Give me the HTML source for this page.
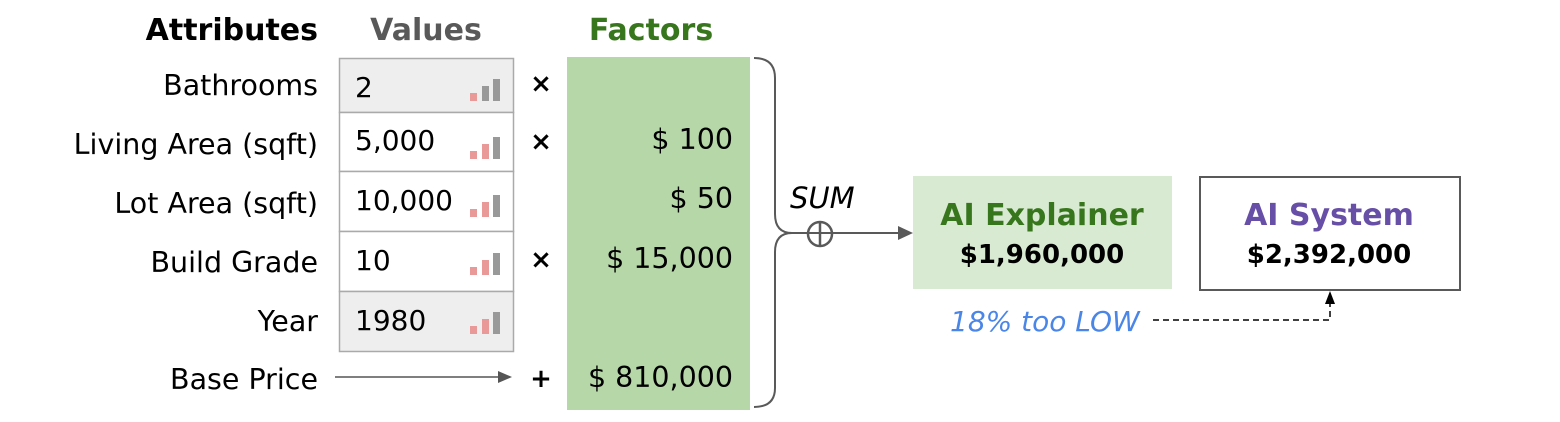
<!DOCTYPE html>
<html><head><meta charset="utf-8"><style>
html,body{margin:0;padding:0;background:#fff;}
svg{display:block;}
text{font-family:"DejaVu Sans","Liberation Sans",sans-serif;}
</style></head><body>
<svg width="1560" height="422" viewBox="0 0 1560 422" xmlns="http://www.w3.org/2000/svg">
<!-- headers -->
<text x="318" y="40" text-anchor="end" font-size="30" font-weight="bold" fill="#000">Attributes</text>
<text x="426" y="40" text-anchor="middle" font-size="30" font-weight="bold" fill="#595959">Values</text>
<text x="651" y="40" text-anchor="middle" font-size="30" font-weight="bold" fill="#38761d">Factors</text>
<!-- labels -->
<g font-size="28.5" fill="#000" text-anchor="end">
<text x="318" y="95">Bathrooms</text>
<text x="318" y="154">Living Area (sqft)</text>
<text x="318" y="213">Lot Area (sqft)</text>
<text x="318" y="272">Build Grade</text>
<text x="318" y="331">Year</text>
<text x="318" y="389">Base Price</text>
</g>
<!-- value boxes -->
<rect x="339.5" y="58.5" width="174" height="54" fill="#eeeeee" stroke="#aaa" stroke-width="1.5"/>
<rect x="339.5" y="112.5" width="174" height="59" fill="#fff" stroke="#aaa" stroke-width="1.5"/>
<rect x="339.5" y="171.5" width="174" height="60" fill="#fff" stroke="#aaa" stroke-width="1.5"/>
<rect x="339.5" y="231.5" width="174" height="60" fill="#fff" stroke="#aaa" stroke-width="1.5"/>
<rect x="339.5" y="291.5" width="174" height="60" fill="#eeeeee" stroke="#aaa" stroke-width="1.5"/>
<g font-size="28" fill="#000">
<text x="355" y="97">2</text>
<text x="355" y="150">5,000</text>
<text x="355" y="210">10,000</text>
<text x="355" y="270">10</text>
<text x="355" y="330">1980</text>
</g>
<!-- bars -->
<g>
<rect x="470" y="93" width="7" height="8" fill="#ea9999"/><rect x="482" y="86" width="7" height="15" fill="#999"/><rect x="493" y="79" width="7" height="22" fill="#999"/>
<rect x="470" y="151" width="7" height="8" fill="#ea9999"/><rect x="482" y="144" width="7" height="15" fill="#ea9999"/><rect x="493" y="137" width="7" height="22" fill="#999"/>
<rect x="470" y="209" width="7" height="8" fill="#ea9999"/><rect x="482" y="202" width="7" height="15" fill="#ea9999"/><rect x="493" y="195" width="7" height="22" fill="#999"/>
<rect x="470" y="267" width="7" height="8" fill="#ea9999"/><rect x="482" y="260" width="7" height="15" fill="#ea9999"/><rect x="493" y="253" width="7" height="22" fill="#999"/>
<rect x="470" y="326" width="7" height="8" fill="#ea9999"/><rect x="482" y="319" width="7" height="15" fill="#ea9999"/><rect x="493" y="312" width="7" height="22" fill="#999"/>
</g>
<!-- operators -->
<g font-size="26" font-weight="bold" fill="#000" text-anchor="middle">
<text x="541" y="92">×</text>
<text x="541" y="150">×</text>
<text x="541" y="268">×</text>
<text x="541" y="387">+</text>
</g>
<line x1="335" y1="377" x2="500" y2="377" stroke="#555" stroke-width="1.5"/>
<polygon points="498,371 512,377 498,383" fill="#555"/>
<!-- factors -->
<rect x="567" y="57" width="183" height="353" fill="#b6d7a8"/>
<g font-size="28.5" fill="#000" text-anchor="end">
<text x="733" y="149">$ 100</text>
<text x="733" y="208">$ 50</text>
<text x="733" y="268">$ 15,000</text>
<text x="733" y="387">$ 810,000</text>
</g>
<!-- brace -->
<path d="M754,58 Q775,58 775,78 L775,214 Q775,233 792,233 Q775,233 775,252 L775,388 Q775,407 754,407" fill="none" stroke="#595959" stroke-width="2"/>
<line x1="792" y1="233" x2="900" y2="233" stroke="#595959" stroke-width="2"/>
<polygon points="898,226 913,233 898,240" fill="#595959"/>
<circle cx="820" cy="234" r="12" fill="none" stroke="#595959" stroke-width="2.5"/>
<line x1="820" y1="222" x2="820" y2="246" stroke="#595959" stroke-width="2.5"/>
<text x="790" y="208" font-size="29" font-style="italic" fill="#000">SUM</text>
<!-- explainer -->
<rect x="913" y="176" width="259" height="113" fill="#d9ead3"/>
<text x="1042" y="225" text-anchor="middle" font-size="30" font-weight="bold" fill="#38761d">AI Explainer</text>
<text x="1042" y="263" text-anchor="middle" font-size="26" font-weight="bold" fill="#000">$1,960,000</text>
<!-- system -->
<rect x="1200" y="177" width="260" height="113" fill="#fff" stroke="#595959" stroke-width="2"/>
<text x="1329" y="225" text-anchor="middle" font-size="30" font-weight="bold" fill="#674ea7">AI System</text>
<text x="1329" y="263" text-anchor="middle" font-size="26" font-weight="bold" fill="#000">$2,392,000</text>
<!-- note -->
<text x="950" y="331" font-size="28" font-style="italic" fill="#4a86e8">18% too LOW</text>
<path d="M1153,320 L1330,320 L1330,303" fill="none" stroke="#000" stroke-width="1.5" stroke-dasharray="6,4"/>
<polygon points="1325,304 1330,291 1335,304" fill="#000"/>
</svg>
</body></html>
